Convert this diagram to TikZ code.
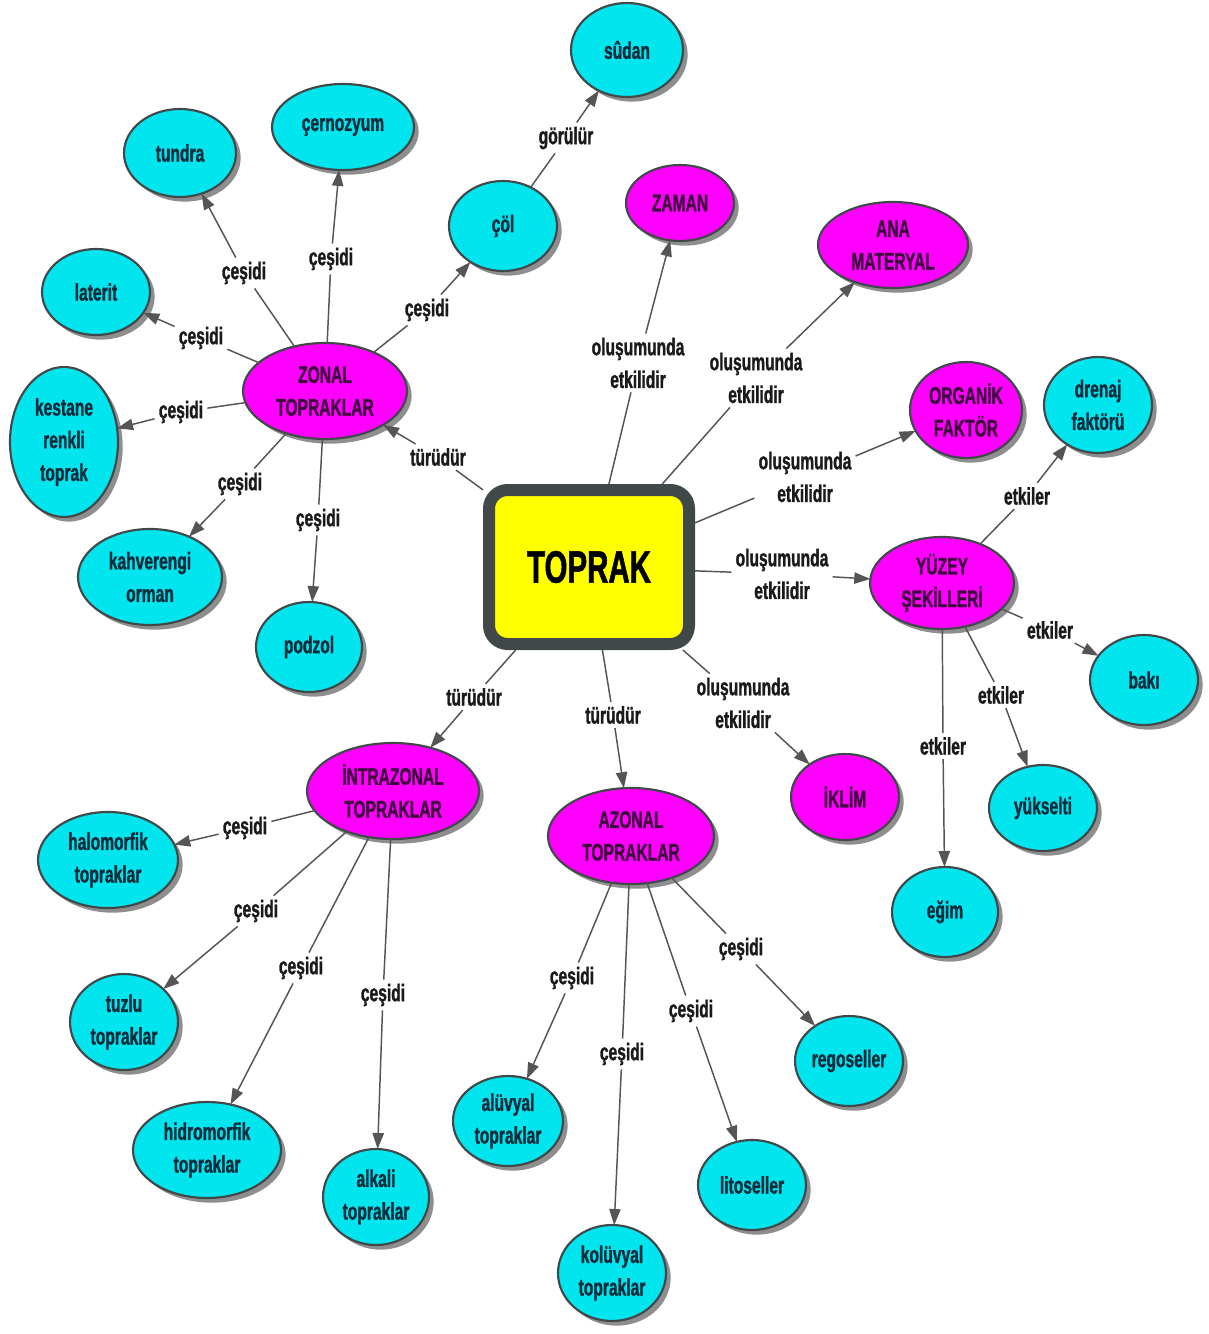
\documentclass[tikz,border=0pt]{standalone}
\usepackage{fontspec}
\setmainfont{Liberation Sans}[FakeStretch=0.65, BoldFeatures={FakeBold=1.2}]
\usetikzlibrary{shapes.geometric,arrows.meta,shadows}

\definecolor{leafcyan}{HTML}{00E5EE}
\definecolor{factormag}{HTML}{FF00FF}
\definecolor{coreyellow}{HTML}{FFFF00}
\definecolor{edgegray}{HTML}{404849}
\definecolor{shadowgray}{HTML}{8E8E8E}
\definecolor{linkgray}{HTML}{555555}
\definecolor{leaftext}{HTML}{0E2C3C}
\definecolor{factortext}{HTML}{3E0A3E}
\definecolor{labeltext}{HTML}{1A1A1A}

\tikzset{
  sz/.style 2 args={minimum width=#1*0.75pt, minimum height=#2*0.75pt},
  concept/.style={ellipse, draw=edgegray, line width=1.6pt, inner sep=0pt, outer sep=0pt,
    align=center, font=\fontsize{18}{24.5}\selectfont\bfseries,
    drop shadow={shadow xshift=3.5pt, shadow yshift=-3.5pt, fill=shadowgray, opacity=1}},
  leaf/.style={concept, fill=leafcyan, text=leaftext},
  factor/.style={concept, fill=factormag, text=factortext},
  core/.style={rectangle, rounded corners=14pt, draw=edgegray, line width=9pt, fill=coreyellow,
    text=black, font=\fontsize{34}{36}\selectfont\bfseries,
    drop shadow={shadow xshift=3.5pt, shadow yshift=-3.5pt, fill=shadowgray, opacity=1}},
  lbl/.style={inner sep=3pt, align=center, text=labeltext, font=\fontsize{18}{24.5}\selectfont\bfseries},
  link/.style={draw=linkgray, line width=1.1pt},
  arr/.style={link, -{Triangle[length=12pt, width=8.5pt, fill=linkgray]}}
}

\begin{document}
\begin{tikzpicture}[x=0.75pt, y=-0.75pt]
\useasboundingbox (0,0) rectangle (1208,1334);
\fill[white] (0,0) rectangle (1208,1334);

% central concept
\node[core, sz={200}{154}] (toprak) at (589,567) {TOPRAK};

% factors and soil groups
\node[factor, sz={108}{76}]  (zaman)   at (680,203) {ZAMAN};
\node[factor, sz={150}{86}]  (ana)     at (893,245) {ANA\\MATERYAL};
\node[factor, sz={164}{96}]  (zonal)   at (325,391) {ZONAL\\TOPRAKLAR};
\node[factor, sz={112}{96}]  (organik) at (966,410) {ORGANİK\\FAKTÖR};
\node[factor, sz={144}{92}]  (yuzey)   at (942,583) {YÜZEY\\ŞEKİLLERİ};
\node[factor, sz={108}{86}]  (iklim)   at (845,797) {İKLİM};
\node[factor, sz={172}{96}]  (intra)   at (393,791) {İNTRAZONAL\\TOPRAKLAR};
\node[factor, sz={166}{96}]  (azonal)  at (631,836) {AZONAL\\TOPRAKLAR};

% soil types and relief features
\node[leaf, sz={112}{94}]  (sudan)   at (627,50)   {sûdan};
\node[leaf, sz={112}{88}]  (tundra)  at (180,153)  {tundra};
\node[leaf, sz={142}{86}]  (cern)    at (343,127)  {çernozyum};
\node[leaf, sz={108}{90}]  (col)     at (503,226)  {çöl};
\node[leaf, sz={108}{86}]  (laterit) at (96,292)   {laterit};
\node[leaf, sz={108}{150}] (kestane) at (64,442)   {kestane\\renkli\\toprak};
\node[leaf, sz={108}{96}]  (drenaj)  at (1098,405) {drenaj\\faktörü};
\node[leaf, sz={144}{96}]  (kahve)   at (150,577)  {kahverengi\\orman};
\node[leaf, sz={106}{90}]  (podzol)  at (309,647)  {podzol};
\node[leaf, sz={108}{90}]  (baki)    at (1144,680) {bakı};
\node[leaf, sz={108}{86}]  (yuksel)  at (1043,808) {yükselti};
\node[leaf, sz={140}{96}]  (halo)    at (108,860)  {halomorfik\\topraklar};
\node[leaf, sz={106}{90}]  (egim)    at (945,912)  {eğim};
\node[leaf, sz={108}{96}]  (tuzlu)   at (124,1022) {tuzlu\\topraklar};
\node[leaf, sz={108}{90}]  (rego)    at (849,1061) {regoseller};
\node[leaf, sz={110}{90}]  (aluv)    at (508,1121) {alüvyal\\topraklar};
\node[leaf, sz={148}{96}]  (hidro)   at (207,1150) {hidromorfik\\topraklar};
\node[leaf, sz={108}{90}]  (lito)    at (752,1185) {litoseller};
\node[leaf, sz={106}{96}]  (alkali)  at (376,1197) {alkali\\topraklar};
\node[leaf, sz={108}{96}]  (koluv)   at (612,1273) {kolüvyal\\topraklar};

% linking phrases
\node[lbl] (lgor) at (566,138)  {görülür};
\node[lbl] (ltun) at (244,273)  {çeşidi};
\node[lbl] (lcer) at (331,259)  {çeşidi};
\node[lbl] (lcol) at (427,310)  {çeşidi};
\node[lbl] (llat) at (201,338)  {çeşidi};
\node[lbl] (lkes) at (181,412)  {çeşidi};
\node[lbl] (lkah) at (240,484)  {çeşidi};
\node[lbl] (lpod) at (318,520)  {çeşidi};
\node[lbl] (ltz)  at (438,457)  {türüdür};
\node[lbl] (lzam) at (638,363)  {oluşumunda\\etkilidir};
\node[lbl] (lana) at (756,378)  {oluşumunda\\etkilidir};
\node[lbl] (lorg) at (805,477)  {oluşumunda\\etkilidir};
\node[lbl] (lyuz) at (782,574)  {oluşumunda\\etkilidir};
\node[lbl] (likl) at (743,703)  {oluşumunda\\etkilidir};
\node[lbl] (lti)  at (474,697)  {türüdür};
\node[lbl] (lta)  at (613,715)  {türüdür};
\node[lbl] (ldre) at (1027,496) {etkiler};
\node[lbl] (lbak) at (1050,630) {etkiler};
\node[lbl] (lyuk) at (1001,695) {etkiler};
\node[lbl] (legi) at (943,746)  {etkiler};
\node[lbl] (lhal) at (245,828)  {çeşidi};
\node[lbl] (ltuz) at (256,911)  {çeşidi};
\node[lbl] (lhid) at (301,968)  {çeşidi};
\node[lbl] (lalk) at (383,995)  {çeşidi};
\node[lbl] (lalu) at (572,978)  {çeşidi};
\node[lbl] (lkol) at (622,1054) {çeşidi};
\node[lbl] (llit) at (691,1011) {çeşidi};
\node[lbl] (lreg) at (741,949)  {çeşidi};

% connectors: source -- phrase -> target
\draw[link] (col) -- (lgor);    \draw[arr] (lgor) -- (sudan);
\draw[link] (zonal) -- (ltun);  \draw[arr] (ltun) -- (tundra);
\draw[link] (zonal) -- (lcer);  \draw[arr] (lcer) -- (cern);
\draw[link] (zonal) -- (lcol);  \draw[arr] (lcol) -- (col);
\draw[link] (zonal) -- (llat);  \draw[arr] (llat) -- (laterit);
\draw[link] (zonal) -- (lkes);  \draw[arr] (lkes) -- (kestane);
\draw[link] (zonal) -- (lkah);  \draw[arr] (lkah) -- (kahve);
\draw[link] (zonal) -- (lpod);  \draw[arr] (lpod) -- (podzol);

\draw[link] (toprak) -- (ltz);  \draw[arr] (ltz) -- (zonal);
\draw[link] (toprak) -- (lzam); \draw[arr] (lzam) -- (zaman);
\draw[link] (toprak) -- (lana); \draw[arr] (lana) -- (ana);
\draw[link] (toprak) -- (lorg); \draw[arr] (lorg) -- (organik);
\draw[link] (toprak) -- (lyuz); \draw[arr] (lyuz) -- (yuzey);
\draw[link] (toprak) -- (likl); \draw[arr] (likl) -- (iklim);
\draw[link] (toprak) -- (lti);  \draw[arr] (lti) -- (intra);
\draw[link] (toprak) -- (lta);  \draw[arr] (lta) -- (azonal);

\draw[link] (yuzey) -- (ldre);  \draw[arr] (ldre) -- (drenaj);
\draw[link] (yuzey) -- (lbak);  \draw[arr] (lbak) -- (baki);
\draw[link] (yuzey) -- (lyuk);  \draw[arr] (lyuk) -- (yuksel);
\draw[link] (yuzey) -- (legi);  \draw[arr] (legi) -- (egim);

\draw[link] (intra) -- (lhal);  \draw[arr] (lhal) -- (halo);
\draw[link] (intra) -- (ltuz);  \draw[arr] (ltuz) -- (tuzlu);
\draw[link] (intra) -- (lhid);  \draw[arr] (lhid) -- (hidro);
\draw[link] (intra) -- (lalk);  \draw[arr] (lalk) -- (alkali);

\draw[link] (azonal) -- (lalu); \draw[arr] (lalu) -- (aluv);
\draw[link] (azonal) -- (lkol); \draw[arr] (lkol) -- (koluv);
\draw[link] (azonal) -- (llit); \draw[arr] (llit) -- (lito);
\draw[link] (azonal) -- (lreg); \draw[arr] (lreg) -- (rego);
\end{tikzpicture}
\end{document}
